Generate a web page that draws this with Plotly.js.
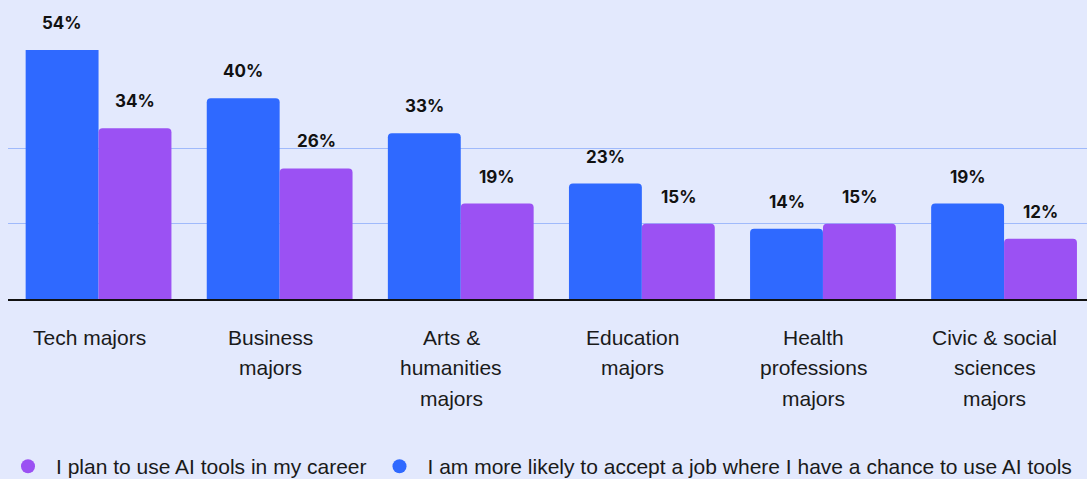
<!DOCTYPE html>
<html>
<head>
<meta charset="utf-8">
<script src="https://cdn.plot.ly/plotly-3.0.1.min.js"></script>
<style>html,body{margin:0;padding:0;background:#e3e9fd;}#chart{width:1087px;height:479px;}</style>
</head>
<body>
<div id="chart"></div>
<script>
const categories = ["Tech majors", "Business majors", "Arts & humanities majors", "Education majors", "Health professions majors", "Civic & social sciences majors"];
const tickLines = [["Tech majors"], ["Business", "majors"], ["Arts &", "humanities", "majors"], ["Education", "majors"], ["Health", "professions", "majors"], ["Civic & social", "sciences", "majors"]];
const acceptJob = [54, 40, 33, 23, 14, 19];
const planToUse = [34, 26, 19, 15, 15, 12];
const seriesNames = ["I am more likely to accept a job where I have a chance to use AI tools", "I plan to use AI tools in my career"];
const gridValues = [15, 30];

const blue = '#2f69ff';
const purple = '#9b51f3';
const yMax = 49.6;
const bargap = 0.195;
const idx = categories.map((_, i) => i);
const half = (1 - bargap) / 4;

const traces = [
  {type: 'bar', x: idx, y: acceptJob, name: seriesNames[0], marker: {color: blue, cornerradius: 4}, showlegend: false, hoverinfo: 'skip'},
  {type: 'bar', x: idx, y: planToUse, name: seriesNames[1], marker: {color: purple, cornerradius: 4}, showlegend: false, hoverinfo: 'skip'},
  {type: 'scatter', mode: 'markers', x: [null], y: [null], name: seriesNames[1], marker: {color: purple, size: 14, symbol: 'circle'}, legendrank: 1},
  {type: 'scatter', mode: 'markers', x: [null], y: [null], name: seriesNames[0], marker: {color: blue, size: 14, symbol: 'circle'}, legendrank: 2}
];

const annotations = [];
const labelFont = {family: 'Inter, "Liberation Sans", sans-serif', size: 17, color: '#111', weight: 700};
[[acceptJob, -half], [planToUse, half]].forEach(([vals, off]) => {
  vals.forEach((v, i) => {
    annotations.push({x: i + off, y: Math.min(v, yMax), xref: 'x', yref: 'y', text: '<b>' + v + '%</b>', showarrow: false, yanchor: 'middle', yshift: 27, font: labelFont});
  });
});
tickLines.forEach((lines, i) => {
  lines.forEach((ln, j) => {
    annotations.push({x: i, y: 0, xref: 'x', yref: 'y', text: ln, showarrow: false, yanchor: 'middle', xanchor: 'center', xshift: -9.5, yshift: -(38.3 + 30.4 * j), font: {family: '"Liberation Sans", Arial, sans-serif', size: 21, color: '#1a1a1a'}});
  });
});

const layout = {
  width: 1087, height: 479,
  paper_bgcolor: '#e3e9fd', plot_bgcolor: '#e3e9fd',
  margin: {l: 7.5, r: 0, t: 49.5, b: 179.5},
  barmode: 'group', bargap: bargap, bargroupgap: 0,
  xaxis: {range: [-0.5, 5.458], showticklabels: false, showgrid: false, zeroline: false, showline: true, linecolor: '#111', linewidth: 1.5, fixedrange: true},
  yaxis: {range: [0, yMax], tickvals: gridValues, showticklabels: false, gridcolor: '#a0bafb', gridwidth: 1.5, zeroline: false, fixedrange: true},
  showlegend: true,
  legend: {orientation: 'h', xref: 'container', yref: 'container', x: 0.0, xanchor: 'left', y: 0.026, yanchor: 'middle', itemwidth: 46, font: {family: '"Liberation Sans", Arial, sans-serif', size: 21, color: '#1a1a1a'}, bgcolor: 'rgba(0,0,0,0)'},
  annotations: annotations,
  font: {family: '"Liberation Sans", Arial, sans-serif'}
};

Plotly.newPlot('chart', traces, layout, {displayModeBar: false, staticPlot: true});
</script>
</body>
</html>
